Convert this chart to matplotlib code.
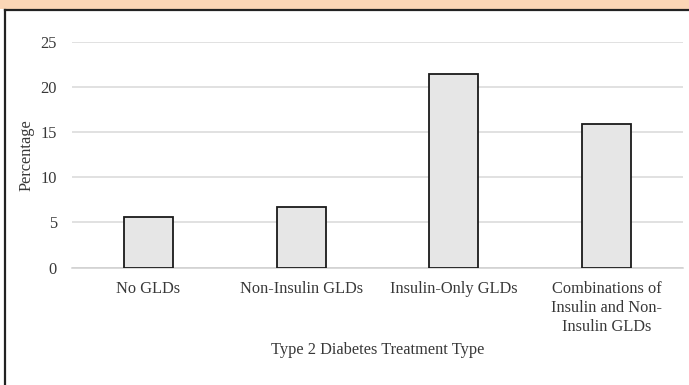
import matplotlib.pyplot as plt
from matplotlib.patches import Rectangle

categories = ["No GLDs", "Non-Insulin GLDs", "Insulin-Only GLDs",
              "Combinations of\nInsulin and Non-\nInsulin GLDs"]
percentages = [5.6, 6.7, 21.5, 15.9]
yticks = [0, 5, 10, 15, 20, 25]

plt.rcParams['font.family'] = ['Liberation Serif', 'DejaVu Serif']

fig = plt.figure(figsize=(6.89, 3.85), dpi=100)
fig.patch.set_facecolor('white')

# orange strip on top and black frame
fig.patches.append(Rectangle((0, 1 - 9 / 385), 1, 9 / 385, transform=fig.transFigure,
                             facecolor='#fbd6b6', edgecolor='none', zorder=0))
fig.lines.append(plt.Line2D([5 / 689, 1], [1 - 10 / 385, 1 - 10 / 385],
                            transform=fig.transFigure, color='#222222', lw=1.6))
fig.lines.append(plt.Line2D([5 / 689, 5 / 689], [0, 1 - 10 / 385],
                            transform=fig.transFigure, color='#222222', lw=1.6))

ax = fig.add_axes([72 / 689, 1 - 267.5 / 385, (683 - 72) / 689, 225.5 / 385])
x = range(len(categories))
ax.bar(x, percentages, width=0.32, color='#e6e6e6', edgecolor='#1a1a1a',
       linewidth=1.3, zorder=3)

fs = 11.8
ax.set_xlim(-0.5, len(categories) - 0.5)
ax.set_ylim(0, 25)
ax.set_yticks(yticks)
ax.set_xticks(list(x))
ax.set_xticklabels(categories, fontsize=fs, color='#383838', linespacing=1.25)
ax.tick_params(axis='y', labelsize=fs, colors='#383838', length=0, pad=11)
ax.tick_params(axis='x', length=0, pad=9.5)
ax.grid(axis='y', color='#d9d9d9', linewidth=1.1, zorder=0)
for s in ['top', 'right', 'left']:
    ax.spines[s].set_visible(False)
ax.spines['bottom'].set_color('#d0d0d0')
ax.spines['bottom'].set_linewidth(1.1)

ax.set_ylabel("Percentage", fontsize=fs, color='#383838', labelpad=4)
ax.set_xlabel("Type 2 Diabetes Treatment Type", fontsize=fs, color='#383838', labelpad=5)

fig.savefig("out.png", dpi=100)
